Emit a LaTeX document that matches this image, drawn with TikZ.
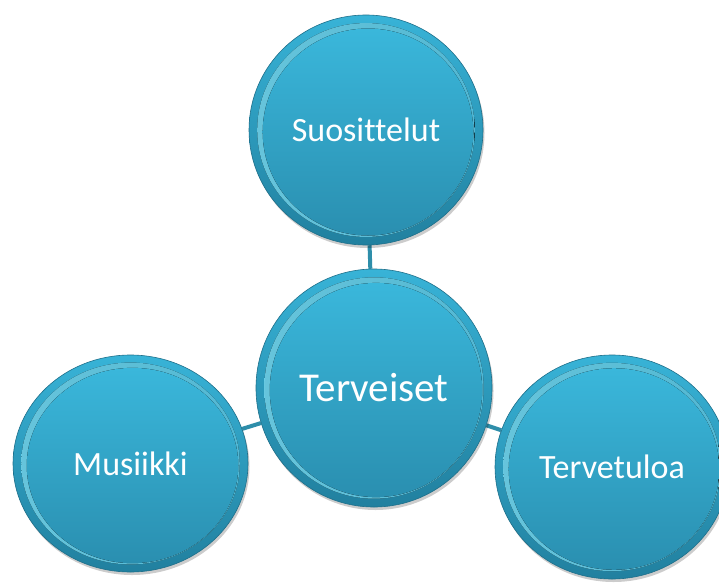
\documentclass[tikz,border=0pt]{standalone}
\usepackage{fontspec}
\newfontfamily\carlito[Ligatures=NoCommon]{Carlito}
\usetikzlibrary{shapes.geometric,shadows,backgrounds}
\definecolor{rimtop}{HTML}{38B3D7}
\definecolor{rimbot}{HTML}{21809F}
\definecolor{intop}{HTML}{3AB7DB}
\definecolor{inbot}{HTML}{2A8FB0}
\definecolor{hilite}{HTML}{72D9F2}
\definecolor{edgec}{HTML}{1E6F8A}
\definecolor{linkc}{HTML}{2E8EAA}
\tikzset{
  bubble/.style n args={2}{ellipse, inner sep=0pt, text=white,
    minimum width=2*#1 pt, minimum height=2*#2 pt,
    top color=rimtop, bottom color=rimbot, draw=edgec, line width=0.6pt,
    drop shadow={shadow xshift=1.5pt, shadow yshift=-3pt, opacity=0.2, fill=black},
    path picture={
      \fill[left color=hilite, right color=hilite!60!rimtop, opacity=0.9]
        (path picture bounding box.center)
        ellipse [x radius=0.93*#1 pt, y radius=0.93*#2 pt];
      \fill[top color=intop, bottom color=inbot]
        ([xshift=2pt,yshift=-2pt]path picture bounding box.center)
        ellipse [x radius=0.9*#1 pt, y radius=0.9*#2 pt];
    }},
  smalltext/.style={font=\carlito\fontsize{34}{40}\selectfont},
  bigtext/.style={font=\carlito\fontsize{41}{48}\selectfont},
  link/.style={draw=linkc, line width=4pt},
}
\begin{document}
\begin{tikzpicture}[x=1pt,y=-1pt]
\useasboundingbox (0,0) rectangle (719,586);
\begin{scope}[on background layer]
  \fill[white] (0,0) rectangle (719,586);
\end{scope}
\node[bubble={117}{115}, smalltext] (sug) at (366,130) {Suosittelut};
\node[bubble={118}{119}, bigtext]   (ter) at (374,388) {Terveiset};
\node[bubble={117.5}{108.5}, smalltext] (mus) at (130.5,463.5) {Musiikki};
\node[bubble={117}{112}, smalltext] (tul) at (612,467) {Tervetuloa};
\begin{scope}[on background layer]
  \draw[link] (sug) -- (ter);
  \draw[link] (mus) -- (ter);
  \draw[link] (ter) -- (tul);
\end{scope}
\end{tikzpicture}
\end{document}
